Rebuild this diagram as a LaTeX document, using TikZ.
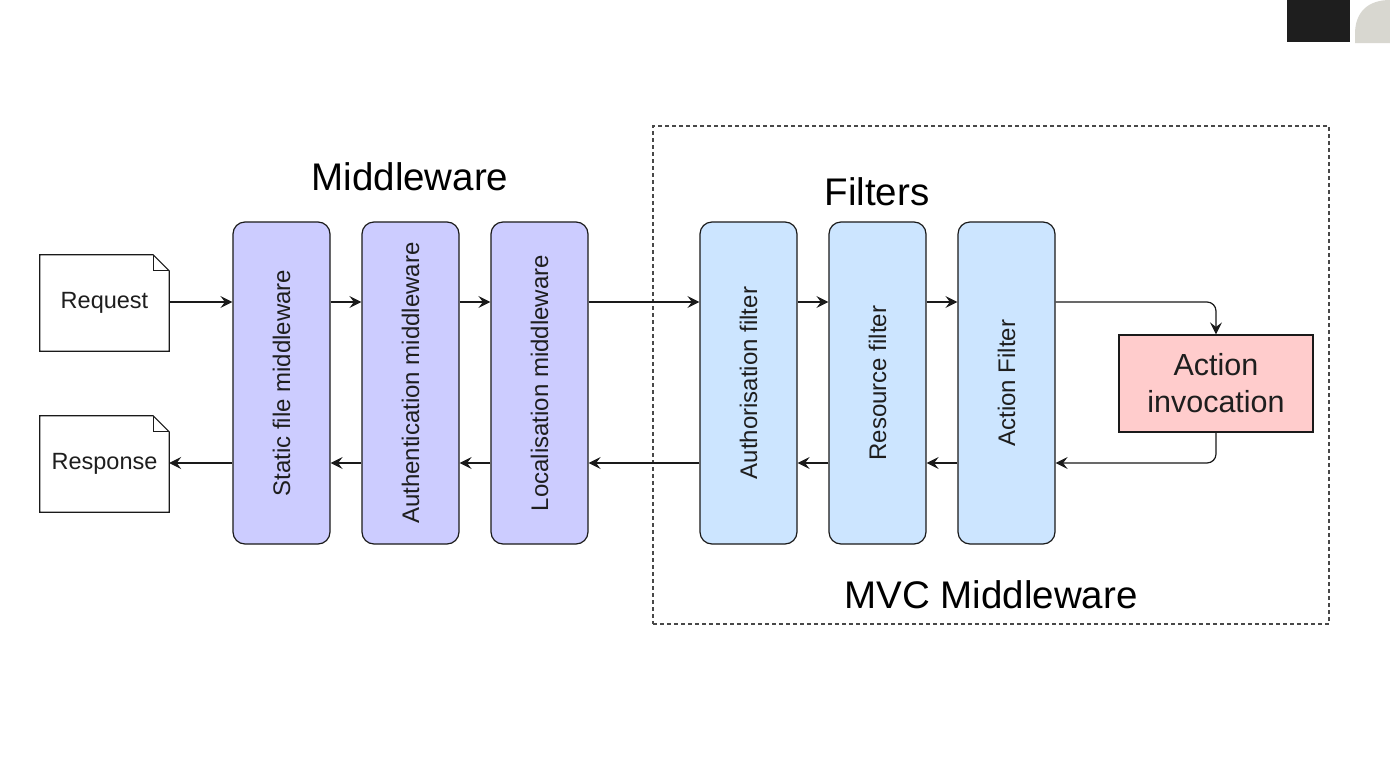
\documentclass[tikz,border=0pt]{standalone}
\usepackage{fontspec}
\setmainfont{Liberation Sans}
\usetikzlibrary{arrows.meta}
\definecolor{mwfill}{HTML}{CCCCFF}
\definecolor{ftfill}{HTML}{CCE5FF}
\definecolor{actfill}{HTML}{FFCCCC}
\definecolor{linec}{HTML}{1A1A1A}
\definecolor{txt}{HTML}{1E1E1E}
\definecolor{darkblk}{HTML}{1E1E1E}
\definecolor{corner}{HTML}{D8D7D0}
\begin{document}
\begin{tikzpicture}[x=1pt,y=-1pt,
  mw/.style={draw=linec, fill=mwfill, rounded corners=12pt, line width=1.2pt,
    minimum width=97pt, minimum height=322pt, inner sep=0pt, text=txt,
    font=\fontsize{24}{28}\selectfont},
  ft/.style={mw, fill=ftfill},
  doc/.style={minimum width=129pt, minimum height=96pt, inner sep=0pt, text=txt,
    font=\fontsize{23.5}{28}\selectfont},
  act/.style={draw=linec, fill=actfill, line width=1.2pt, minimum width=194pt,
    minimum height=97pt, inner sep=0pt, align=center, text=txt,
    font=\fontsize{30.5}{37}\selectfont},
  title/.style={text=black, font=\fontsize{38.5}{46}\selectfont, inner sep=0pt},
  arr/.style={draw=linec, line width=1.2pt, -{Stealth[length=12pt,width=12pt,inset=4.5pt]}},
  docline/.style={draw=linec, line width=1.2pt, line join=miter}
]
\useasboundingbox (0,0) rectangle (1390,758);
\fill[white] (0,0) rectangle (1390,758);
% corner artifacts
\fill[darkblk] (1287,0) rectangle (1350,42);
\fill[corner] (1355,43) -- (1355,34) .. controls (1355,12) and (1368,0) .. (1390,0) -- (1390,43) -- cycle;

% dashed MVC container
\node (mvc) [draw=linec!80, dashed, dash pattern=on 4pt off 3pt, line width=1.1pt,
  minimum width=676pt, minimum height=498pt, inner sep=0pt] at (991,375) {};

% titles
\node[title] (tmw) at (410,177) {Middleware};
\node[title] (tft) at (877,192) {Filters};
\node[title] (tmvc) at (991,595) {MVC Middleware};

% documents
\node[doc] (req) at (104.5,303) {Request};
\node[doc] (res) at (104.5,464) {Response};
\foreach \d in {req,res}{
  \draw[docline] (\d.south west) -- (\d.north west) -- ([xshift=-16pt]\d.north east)
    -- ([yshift=-16pt]\d.north east) -- (\d.south east) -- cycle;
  \draw[docline] ([xshift=-16pt]\d.north east) -- ([xshift=-16pt,yshift=-16pt]\d.north east)
    -- ([yshift=-16pt]\d.north east);
}

% middleware boxes
\node[mw] (s1) at (281.5,383) {\rotatebox{90}{Static file middleware}};
\node[mw] (s2) at (410.5,383) {\rotatebox{90}{Authentication middleware}};
\node[mw] (s3) at (539.5,383) {\rotatebox{90}{Localisation middleware}};
% filter boxes
\node[ft] (f1) at (748.5,383) {\rotatebox{90}{Authorisation filter}};
\node[ft] (f2) at (877.5,383) {\rotatebox{90}{Resource filter}};
\node[ft] (f3) at (1006.5,383) {\rotatebox{90}{Action Filter}};
% action invocation
\node[act] (ai) at (1216,383.5) {Action\\invocation};

% forward arrows
\coordinate (top) at (0,302);
\coordinate (bot) at (0,463);
\draw[arr] (req.east |- top) -- (s1.west |- top);
\draw[arr] (s1.east |- top) -- (s2.west |- top);
\draw[arr] (s2.east |- top) -- (s3.west |- top);
\draw[arr] (s3.east |- top) -- (f1.west |- top);
\draw[arr] (f1.east |- top) -- (f2.west |- top);
\draw[arr] (f2.east |- top) -- (f3.west |- top);
\draw[arr, rounded corners=9pt] (f3.east |- top) -| (ai.north);
% backward arrows
\draw[arr, rounded corners=9pt] (ai.south) |- (f3.east |- bot);
\draw[arr] (f3.west |- bot) -- (f2.east |- bot);
\draw[arr] (f2.west |- bot) -- (f1.east |- bot);
\draw[arr] (f1.west |- bot) -- (s3.east |- bot);
\draw[arr] (s3.west |- bot) -- (s2.east |- bot);
\draw[arr] (s2.west |- bot) -- (s1.east |- bot);
\draw[arr] (s1.west |- bot) -- (res.east |- bot);
\end{tikzpicture}
\end{document}
